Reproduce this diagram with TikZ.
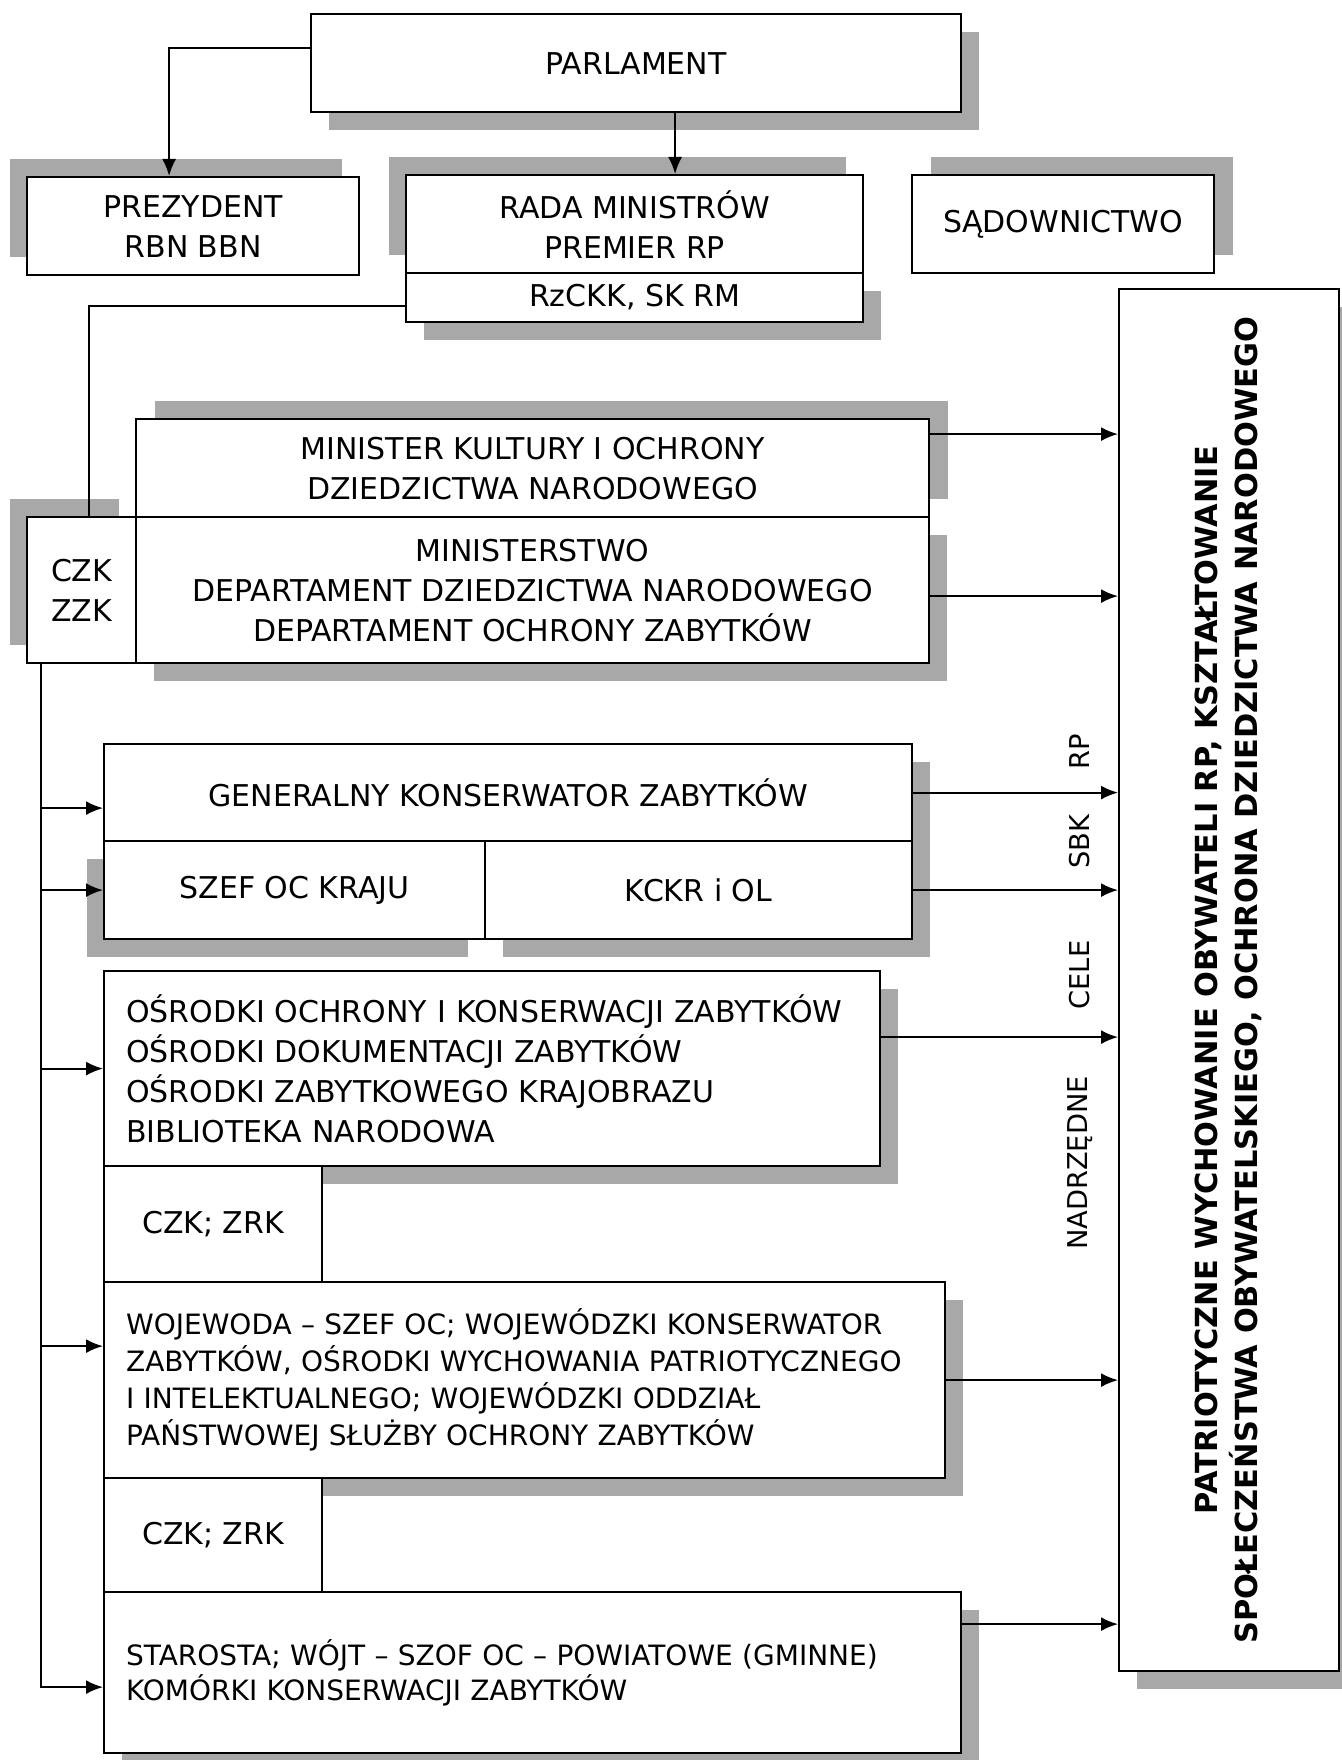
\documentclass[tikz,border=0pt]{standalone}
\usepackage{fontspec}
\setmainfont{DejaVu Sans}
\usetikzlibrary{arrows.meta,shadows}
\definecolor{shadowgray}{gray}{0.66}
\newcommand{\bigtxt}{\fontsize{30}{40}\selectfont}
\newcommand{\smalltxt}{\fontsize{28}{37}\selectfont}
\tikzstyle{box}=[draw, line width=2.2pt, fill=white, inner sep=0pt, anchor=north west, font=\bigtxt, align=center]
\tikzstyle{textbox}=[box, align=left, inner xsep=22pt]
\tikzset{lowright/.style={drop shadow={shadow xshift=18pt,shadow yshift=-18pt,fill=shadowgray,opacity=1}}}
\tikzset{lowleft/.style={drop shadow={shadow xshift=-17pt,shadow yshift=-18pt,fill=shadowgray,opacity=1}}}
\tikzset{upright/.style={drop shadow={shadow xshift=19pt,shadow yshift=18pt,fill=shadowgray,opacity=1}}}
\tikzset{upleft/.style={drop shadow={shadow xshift=-17pt,shadow yshift=18pt,fill=shadowgray,opacity=1}}}
\tikzstyle{wire}=[line width=2pt]
\tikzstyle{arr}=[wire, -{Latex[length=17pt,width=14pt]}]
\tikzstyle{lab}=[rotate=90, font=\fontsize{27.3}{33}\selectfont]

\begin{document}
\begin{tikzpicture}[x=1pt,y=-1pt]
  \useasboundingbox[fill=white] (0,0) rectangle (1341,1760);

  %% top row
  \draw (310,13) node[box,lowright,minimum width=650pt,minimum height=98pt] (parl) {PARLAMENT};
  \draw (26,176) node[box,upleft,minimum width=332pt,minimum height=98pt] (prez) {PREZYDENT\\RBN BBN};
  \draw (405,174) node[box,upleft,minimum width=457pt,minimum height=98pt] (rada) {RADA MINISTRÓW\\PREMIER RP};
  \draw (405,272) node[box,lowright,minimum width=457pt,minimum height=49pt] (rzckk) {RzCKK, SK RM};
  \draw (911,174) node[box,upright,minimum width=302pt,minimum height=98pt] (sad) {SĄDOWNICTWO};

  %% ministry
  \draw (135,418) node[box,upright,minimum width=793pt,minimum height=98pt] (mkdn) {MINISTER KULTURY I OCHRONY\\DZIEDZICTWA NARODOWEGO};
  \draw (26,516) node[box,upleft,minimum width=109pt,minimum height=146pt] (czk) {CZK\\ZZK};
  \draw (135,516) node[box,lowright,minimum width=793pt,minimum height=146pt] (min) {MINISTERSTWO\\DEPARTAMENT DZIEDZICTWA NARODOWEGO\\DEPARTAMENT OCHRONY ZABYTKÓW};

  %% central level
  \draw (103,743) node[box,lowright,minimum width=808pt,minimum height=97pt] (gkz) {GENERALNY KONSERWATOR ZABYTKÓW};
  \draw (103,840) node[box,lowleft,minimum width=381pt,minimum height=98pt] (szef) {SZEF OC KRAJU};
  \draw (484,840) node[box,lowright,minimum width=427pt,minimum height=98pt] (kckr) {KCKR i OL};
  \draw (103,970) node[textbox,lowright,text width=732pt,minimum height=195pt] (osr) {OŚRODKI OCHRONY I KONSERWACJI ZABYTKÓW\\OŚRODKI DOKUMENTACJI ZABYTKÓW\\OŚRODKI ZABYTKOWEGO KRAJOBRAZU\\BIBLIOTEKA NARODOWA};
  \draw (103,1165) node[box,minimum width=218pt,minimum height=116pt] (zrka) {CZK; ZRK};

  %% local level
  \draw (103,1281) node[textbox,lowright,text width=797pt,minimum height=196pt,font=\smalltxt] (woj) {WOJEWODA – SZEF OC; WOJEWÓDZKI KONSERWATOR\\ZABYTKÓW, OŚRODKI WYCHOWANIA PATRIOTYCZNEGO\\I INTELEKTUALNEGO; WOJEWÓDZKI ODDZIAŁ\\PAŃSTWOWEJ SŁUŻBY OCHRONY ZABYTKÓW};
  \draw (103,1477) node[box,minimum width=218pt,minimum height=114pt] (zrkb) {CZK; ZRK};
  \draw (103,1591) node[textbox,lowright,text width=813pt,minimum height=161pt,font=\fontsize{28}{35}\selectfont] (star) {STAROSTA; WÓJT – SZOF OC – POWIATOWE (GMINNE)\\KOMÓRKI KONSERWACJI ZABYTKÓW};

  %% goals
  \draw (1118,288) node[box,lowright,minimum width=220pt,minimum height=1382pt,font=\bfseries\fontsize{30.4}{40}\selectfont] (cele) {\rotatebox{90}{\begin{tabular}{@{}c@{}}PATRIOTYCZNE WYCHOWANIE OBYWATELI RP, KSZTAŁTOWANIE\\SPOŁECZEŃSTWA OBYWATELSKIEGO, OCHRONA DZIEDZICTWA NARODOWEGO\end{tabular}}};
  \draw (1080,752) node[lab] (rp) {RP};
  \draw (1080,842) node[lab] (sbk) {SBK};
  \draw (1080,975) node[lab] (cl) {CELE};
  \draw (1080,1163) node[lab] (nadr) {NADRZĘDNE};

  %% links from the top
  \draw[arr] ([yshift=15pt]parl.west) -| ([xshift=-24pt]prez.north);
  \draw[arr] ([xshift=39pt]parl.south) -- ([xshift=39pt]parl.south |- rada.north);
  \draw[wire] ([yshift=-8.5pt]rzckk.west) -| ([xshift=7.5pt]czk.north);

  %% trunk to the lower levels
  \coordinate (trunk) at ([xshift=15pt]czk.south west);
  \draw[arr] (trunk) |- ([yshift=-15.5pt]gkz.west);
  \draw[arr] (trunk) |- (szef.west);
  \draw[arr] (trunk) |- (osr.west);
  \draw[arr] (trunk) |- ([yshift=34pt]woj.west);
  \draw[arr] (trunk) |- ([yshift=-14.5pt]star.west);

  %% towards the goals
  \draw[arr] ([yshift=34pt]mkdn.east) -- ([yshift=34pt]mkdn.east -| cele.west);
  \draw[arr] ([yshift=-6pt]min.east) -- ([yshift=-6pt]min.east -| cele.west);
  \draw[arr] (gkz.east) -- (gkz.east -| cele.west);
  \draw[arr] (kckr.east) -- (kckr.east -| cele.west);
  \draw[arr] ([yshift=31.5pt]osr.east) -- ([yshift=31.5pt]osr.east -| cele.west);
  \draw[arr] (woj.east) -- (woj.east -| cele.west);
  \draw[arr] ([yshift=48.5pt]star.east) -- ([yshift=48.5pt]star.east -| cele.west);
\end{tikzpicture}
\end{document}
